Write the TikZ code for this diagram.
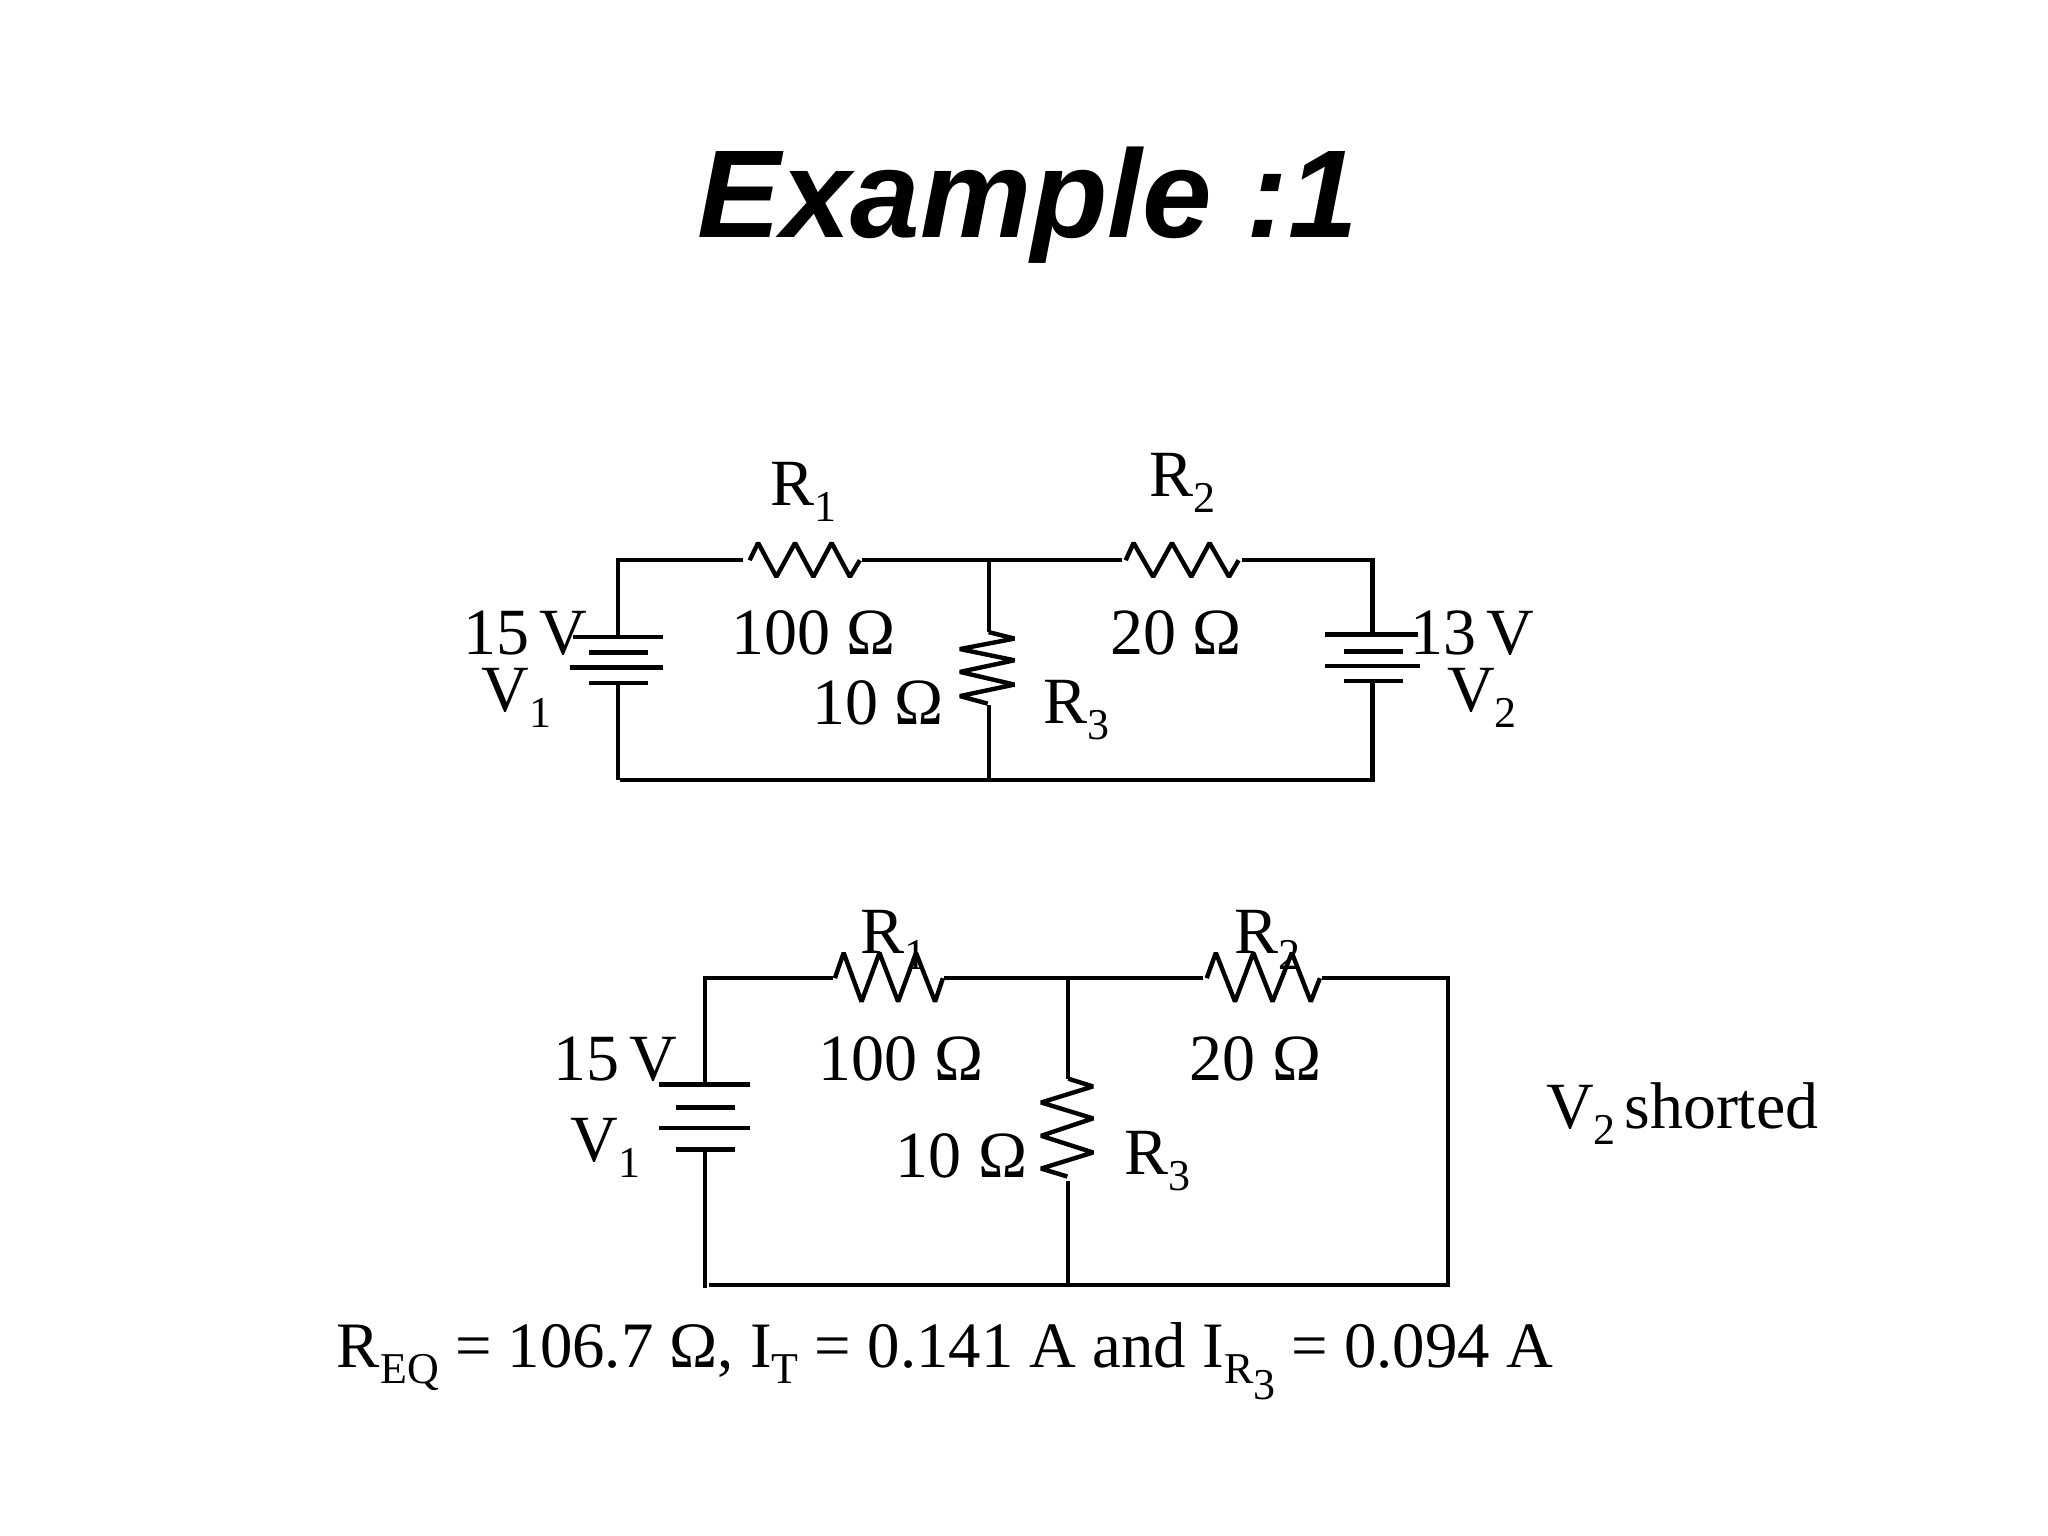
\documentclass[tikz,border=0pt]{standalone}
\usepackage{fontspec}
\setmainfont{Liberation Serif}
\newfontfamily\titlefont{Liberation Sans}
\def\lowr#1{\raisebox{-8pt}{\fontsize{22}{22}\selectfont #1}}
\tikzset{
  wire/.style={line width=2.1pt,line cap=butt,line join=miter},
  plate/.style={line width=2.4pt},
  zig/.style={line width=2.2pt,line join=bevel,line cap=butt},
  lbl/.style={anchor=base west,inner sep=0pt,outer sep=0pt,font=\fontsize{33}{33}\selectfont},
  sumlbl/.style={lbl,font=\fontsize{32.4}{33}\selectfont},
  titletext/.style={anchor=base west,inner sep=0pt,font=\titlefont\fontsize{62.5}{62.5}\selectfont\bfseries\itshape},
}
\begin{document}
\begin{tikzpicture}[x=0.653pt,y=-0.653pt]
\useasboundingbox (0,0) rectangle (1568.2,1176.1);
\fill[white] (0,0) rectangle (1568.2,1176.1);
\node[titletext] (title) at (534,182) {Example :1};

% ---- upper circuit ----
\coordinate (aTL) at (473,429);
\coordinate (aBL) at (473,597);
\coordinate (aTJ) at (757,429);
\coordinate (aBJ) at (757,597);
\coordinate (aTR) at (1051,429);
\coordinate (aBR) at (1051,597);
\coordinate (aR1a) at (569,429);
\coordinate (aR1b) at (660,429);
\coordinate (aR2a) at (859,429);
\coordinate (aR2b) at (951,429);
\coordinate (aR3a) at (757,484);
\coordinate (aR3b) at (757,540);
\coordinate (aB1t) at (473,488);
\coordinate (aB1b) at (473,523);
\coordinate (aB2t) at (1051,486);
\coordinate (aB2b) at (1051,521);

\draw[wire] (aR1a) -- (aTL) -- (aB1t);
\draw[wire] (aB1b) -- (aBL);
\draw[wire] (475,597) -- (aBJ) -- (aBR) -- (aB2b);
\draw[wire] (aR1b) -- (aTJ) -- (aR2a);
\draw[wire] (aR2b) -- (aTR) -- (aB2t);
\draw[wire] (aTJ) -- (aR3a);
\draw[wire] (aR3b) -- (aBJ);

\draw[zig] (574,429) -- ++(6.5,-13.3) -- ++(14,26) -- ++(14.3,-26) -- ++(14,26) -- ++(14,-26) -- ++(14,26) -- ++(7.6,-12.7);
\draw[zig] (862,429) -- ++(6,-13.3) -- ++(15,26) -- ++(14.4,-26) -- ++(14.8,26) -- ++(14,-26) -- ++(14.9,26) -- ++(7.3,-12.7);
\draw[zig] (aR3a) -- (776.8,489) -- (735,497) -- (776.8,505.6) -- (735,514.5) -- (776.8,524.2) -- (735,533) -- (756.3,538.8);

\draw[plate] (439,487.7) -- (508,487.7);
\draw[plate] (451,499.7) -- (496,499.7);
\draw[plate] (436.6,511.4) -- (508,511.4);
\draw[plate] (450.7,523) -- (496,523);
\draw[plate] (1014.7,486) -- (1086,486);
\draw[plate] (1029,498.7) -- (1074,498.7);
\draw[plate] (1014.7,510) -- (1087,510);
\draw[plate] (1029,521.4) -- (1074,521.4);

\node[lbl] (aR1) at (590,387) {R\lowr{1}};
\node[lbl] (aR2) at (880,380) {R\lowr{2}};
\node[lbl] (a100) at (560,501.5) {100 Ω};
\node[lbl] (a20) at (850,501.5) {20 Ω};
\node[lbl] (a15) at (355,501.5) {15\hspace{5pt}V};
\node[lbl] (aV1) at (369,545) {V\lowr{1}};
\node[lbl] (a10) at (622,555) {10 Ω};
\node[lbl] (aR3) at (799,554) {R\lowr{3}};
\node[lbl] (a13) at (1080,501.5) {13\hspace{5pt}V};
\node[lbl] (aV2) at (1108,545) {V\lowr{2}};

% ---- lower circuit ----
\coordinate (bTL) at (540,749);
\coordinate (bBL) at (540,986);
\coordinate (bTJ) at (818,749);
\coordinate (bBJ) at (818,984);
\coordinate (bTR) at (1109,749);
\coordinate (bBR) at (1109,984);
\coordinate (bR1a) at (637.6,749);
\coordinate (bR1b) at (723,749);
\coordinate (bR2a) at (921,749);
\coordinate (bR2b) at (1012,749);
\coordinate (bR3a) at (818,826);
\coordinate (bR3b) at (818,904);
\coordinate (bB1t) at (540,830.6);
\coordinate (bB1b) at (540,880);

\draw[wire] (bR1a) -- (bTL) -- (bB1t);
\draw[wire] (bB1b) -- (bBL);
\draw[wire] (543,984) -- (bBJ) -- (bBR) -- (bTR) -- (bR2b);
\draw[wire] (bR1b) -- (bTJ) -- (bR2a);
\draw[wire] (bTJ) -- (bR3a);
\draw[wire] (bR3b) -- (bBJ);

\draw[zig] (639.3,749) -- ++(6.7,-19.4) -- ++(13.7,37.4) -- ++(13.7,-37.4) -- ++(14.3,37.4) -- ++(13.7,-37.4) -- ++(14.6,37.4) -- ++(6,-18);
\draw[zig] (924,749) -- ++(7,-19.4) -- ++(14.7,37.4) -- ++(14,-37.4) -- ++(14.7,37.4) -- ++(14.8,-37.4) -- ++(14.5,37.4) -- ++(7,-18);
\draw[zig] (bR3a) -- (837,831.9) -- (797.2,844.2) -- (837,856.4) -- (797.2,869.7) -- (837,882.5) -- (797.2,894.8) -- (817.3,900.9);

\draw[plate] (504.5,830.6) -- (574.5,830.6);
\draw[plate] (518,848) -- (562.5,848);
\draw[plate] (504.5,863.8) -- (574.5,863.8);
\draw[plate] (518,880) -- (562.5,880);

\node[lbl] (bR1) at (659,730) {R\lowr{1}};
\node[lbl] (bR2) at (945,730) {R\lowr{2}};
\node[lbl] (b100) at (627,827) {100 Ω};
\node[lbl] (b20) at (911,827) {20 Ω};
\node[lbl] (b15) at (424,827) {15\hspace{5pt}V};
\node[lbl] (bV1) at (437,889) {V\lowr{1}};
\node[lbl] (b10) at (686,902) {10 Ω};
\node[lbl] (bR3) at (861,899) {R\lowr{3}};
\node[lbl] (short) at (1184,864) {V\lowr{2}\hspace{4.2pt}shorted};
\node[sumlbl] (result) at (258,1047) {R\lowr{EQ} = 106.7 Ω, I\lowr{T} = 0.141 A and I\lowr{R\raisebox{-8pt}{\fontsize{22}{22}\selectfont 3}} = 0.094 A};
\end{tikzpicture}
\end{document}
